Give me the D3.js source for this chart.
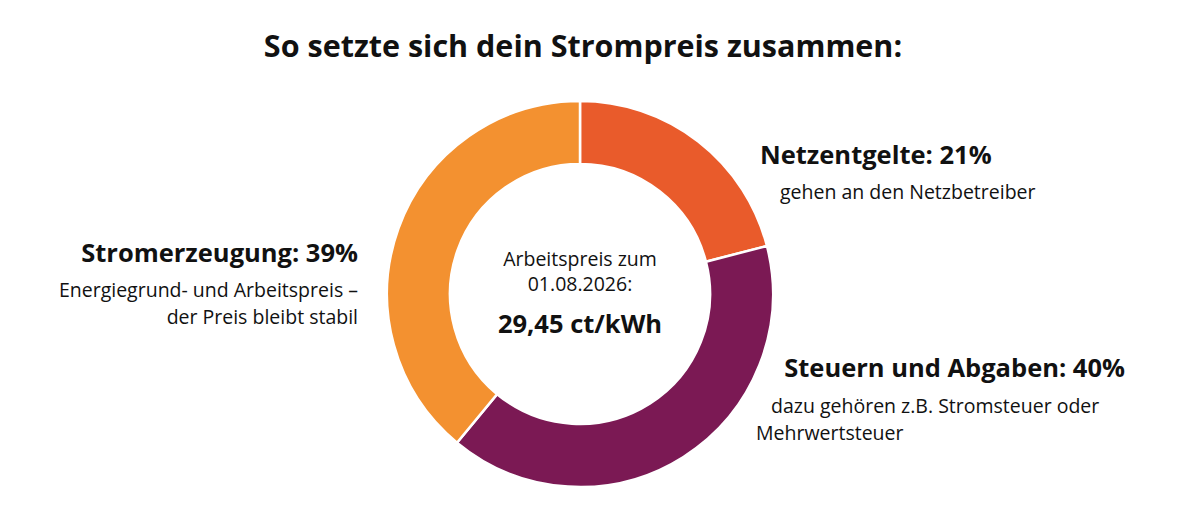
<!DOCTYPE html>
<html>
<head>
	<meta charset="UTF-8" />
	<title>Strompreis</title>
	<script src="https://d3js.org/d3.v7.min.js"></script>
	<style>
		body { margin: 0; background: #fff; }
		text { font-family: "Open Sans", "Noto Sans", sans-serif; fill: #111; }
	</style>
</head>
<body>
	<svg id="chart"></svg>

	<script type="text/javascript">
	// data
	const parts = ["Netzentgelte", "Steuern und Abgaben", "Stromerzeugung"]
	const shares = [21, 40, 39]
	const partColors = ["#e95b2b", "#7b1954", "#f39130"]
	const notes = [
		["gehen an den Netzbetreiber"],
		["dazu gehören z.B. Stromsteuer oder", "Mehrwertsteuer"],
		["Energiegrund- und Arbeitspreis –", "der Preis bleibt stabil"]
	]
	const centerLines = ["Arbeitspreis zum", "01.08.2026:"]
	const priceText = "29,45 ct/kWh"
	const title = "So setzte sich dein Strompreis zusammen:"

	const width = 1180, height = 519
	const cx = 580, cy = 294
	const outerR = 193, innerR = 130

	const svg = d3.select("#chart")
		.attr("width", width)
		.attr("height", height)

	svg.append("text")
		.attr("x", 583)
		.attr("y", 57)
		.attr("text-anchor", "middle")
		.style("font-size", "30.5px")
		.style("font-weight", 700)
		.text(title)

	const pie = d3.pie().sort(null).value(d => d)
	const arc = d3.arc().innerRadius(innerR).outerRadius(outerR)

	const g = svg.append("g")
		.attr("transform", `translate(${cx},${cy})`)

	g.selectAll(".slice")
		.data(pie(shares))
		.enter()
		.append("path")
		.attr("class", "slice")
		.attr("d", arc)
		.attr("fill", (d, i) => partColors[i])
		.attr("stroke", "#fff")
		.attr("stroke-width", 2.5)

	// middle text
	g.selectAll(".centerLine")
		.data(centerLines)
		.enter()
		.append("text")
		.attr("class", "centerLine")
		.attr("x", 0)
		.attr("y", (d, i) => -28 + i * 25)
		.attr("text-anchor", "middle")
		.style("font-size", "19.5px")
		.text(d => d)

	g.append("text")
		.attr("x", 0)
		.attr("y", 39)
		.attr("text-anchor", "middle")
		.style("font-size", "25.5px")
		.style("font-weight", 700)
		.text(priceText)

	// label placement per slice
	const labelPos = [
		{ x: 760, y: 164, anchor: "start", notes: [{ x: 780, y: 199 }] },
		{ x: 1125, y: 377, anchor: "end", notes: [{ x: 771, y: 413 }, { x: 756, y: 440 }] },
		{ x: 358, y: 262, anchor: "end", notes: [{ x: 358, y: 297 }, { x: 358, y: 324 }] }
	]

	parts.forEach((p, i) => {
		const pos = labelPos[i]
		svg.append("text")
			.attr("x", pos.x)
			.attr("y", pos.y)
			.attr("text-anchor", pos.anchor)
			.style("font-size", "25.5px")
			.style("font-weight", 700)
			.text(p + ": " + shares[i] + "%")

		notes[i].forEach((line, j) => {
			const np = pos.notes[j]
			svg.append("text")
				.attr("x", np.x)
				.attr("y", np.y)
				.attr("text-anchor", i == 2 ? "end" : "start")
				.style("font-size", "19.5px")
				.text(line)
		})
	})
	</script>
</body>
</html>
